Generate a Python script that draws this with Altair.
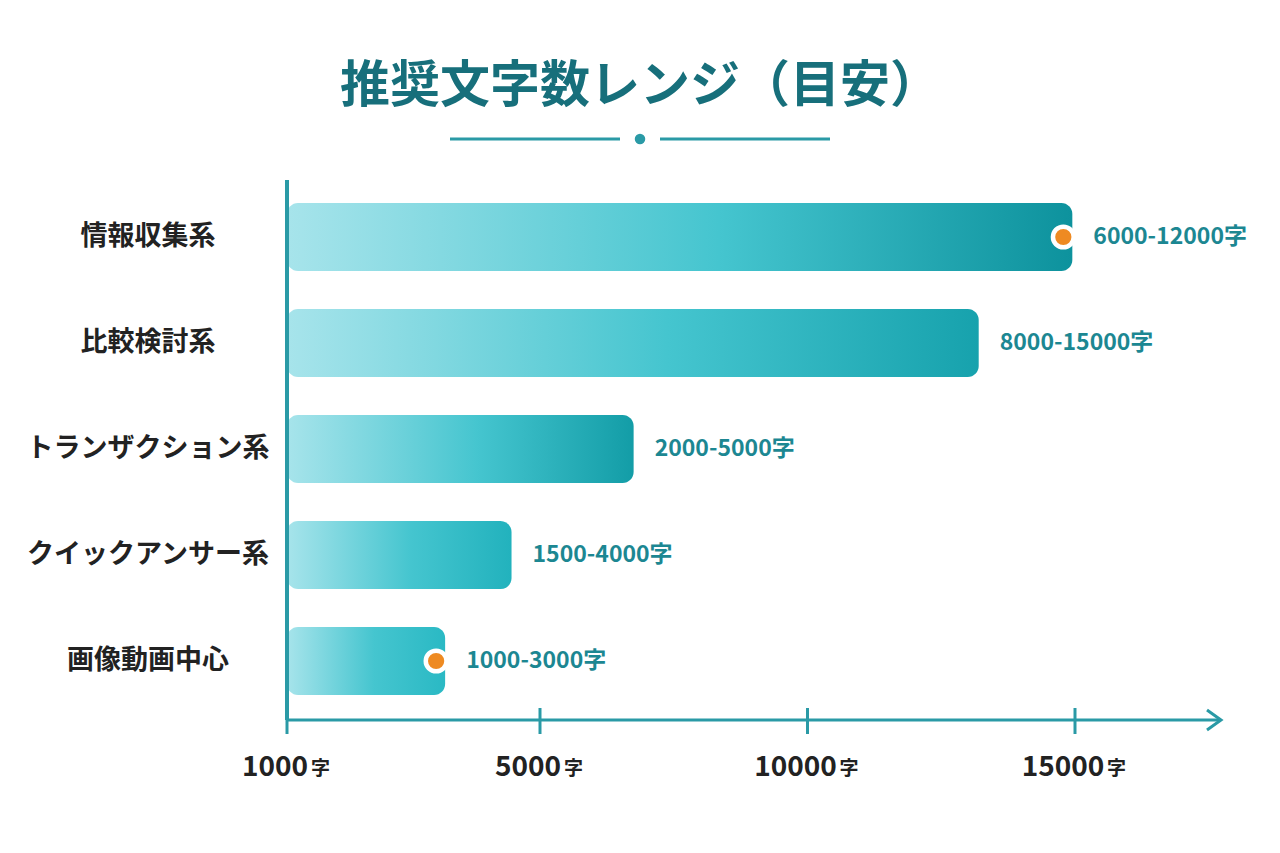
import altair as alt
import pandas as pd

# ---------------- data ----------------
title_text = "推奨文字数レンジ（目安）"
categories = ["情報収集系", "比較検討系", "トランザクション系", "クイックアンサー系", "画像動画中心"]
bar_ends = [14950, 13200, 6750, 4550, 3500]
range_labels = ["6000-12000字", "8000-15000字", "2000-5000字", "1500-4000字", "1000-3000字"]
end_colors = ["#0d929d", "#17a2ad", "#139da7", "#22b2bd", "#2ab9c4"]
has_marker = [True, False, False, False, True]
axis_start = 1000
tick_values = [1000, 5000, 10000, 15000]
tick_numbers = ["1000", "5000", "10000", "15000"]
tick_unit = "字"

TEAL = "#2a9aa6"
TITLE_COLOR = "#176f7b"
LABEL_TEAL = "#1c8792"
DARK = "#222222"
FONT = "Noto Sans CJK JP"

bars = pd.DataFrame({
    "cat": categories,
    "start": [axis_start] * len(categories),
    "end": bar_ends,
    "label": range_labels,
    "marker": has_marker,
})
ticks = pd.DataFrame({"v": tick_values, "num": tick_numbers, "unit": [tick_unit] * len(tick_values)})
single = pd.DataFrame({"t": [title_text]})

xscale = alt.Scale(domain=[1000, 5000, 15000], range=[0, 253, 788], zero=False, nice=False)
yscale = alt.Scale(domain=categories, range=[4, 534], paddingInner=0.358, paddingOuter=0.179)

X = alt.X("start:Q", scale=xscale, axis=None)
Y = alt.Y("cat:N", scale=yscale, axis=None, sort=categories)

layers = []

# gradient bars, one layer per category (gradient relative to each bar)
for cat, endc in zip(categories, end_colors):
    grad = alt.LinearGradient(
        gradient="linear", x1=0, x2=1, y1=0, y2=0,
        stops=[
            alt.GradientStop(offset=0, color="#a7e4eb"),
            alt.GradientStop(offset=0.55, color="#45c5cf"),
            alt.GradientStop(offset=1, color=endc),
        ],
    )
    layers.append(
        alt.Chart(bars).transform_filter(alt.datum.cat == cat)
        .mark_bar(color=grad, cornerRadiusEnd=11)
        .encode(x=X, x2="end:Q", y=Y)
    )

# orange markers
layers.append(
    alt.Chart(bars).transform_filter("datum.marker")
    .mark_point(filled=True, color="#ee8a22", stroke="white", strokeWidth=4.5,
                size=430, opacity=1, strokeOpacity=1, xOffset=-9)
    .encode(x=alt.X("end:Q", scale=xscale, axis=None), y=Y)
)

# value labels
layers.append(
    alt.Chart(bars).mark_text(align="left", baseline="middle", dx=21, fontSize=23,
                              fontWeight="bold", font=FONT, color=LABEL_TEAL)
    .encode(x=alt.X("end:Q", scale=xscale, axis=None), y=Y, text="label:N")
)

# category labels
layers.append(
    alt.Chart(bars).mark_text(align="center", baseline="middle", fontSize=27,
                              fontWeight="bold", font=FONT, color=DARK)
    .encode(x=alt.value(-139), y=Y, text="cat:N")
)

# y axis line
layers.append(
    alt.Chart(single).mark_rule(color=TEAL, strokeWidth=4)
    .encode(x=alt.value(0), y=alt.value(0), y2=alt.value(540))
)
# x axis line
layers.append(
    alt.Chart(single).mark_rule(color=TEAL, strokeWidth=3)
    .encode(x=alt.value(0), x2=alt.value(933), y=alt.value(540))
)
# arrow head
layers.append(
    alt.Chart(single).mark_point(shape="M-1.4,-1L0,0L-1.4,1", filled=False, stroke=TEAL,
                                 strokeWidth=3, size=400, opacity=1)
    .encode(x=alt.value(934), y=alt.value(540))
)
# ticks
layers.append(
    alt.Chart(ticks).mark_rule(color=TEAL, strokeWidth=3)
    .encode(x=alt.X("v:Q", scale=xscale, axis=None), y=alt.value(528), y2=alt.value(554))
)
# tick labels: number + smaller unit
layers.append(
    alt.Chart(ticks).mark_text(align="center", baseline="alphabetic", dx=-12, fontSize=28,
                               fontWeight="bold", font=FONT, color=DARK)
    .encode(x=alt.X("v:Q", scale=xscale, axis=None), y=alt.value(596), text="num:N")
)
for ndig, off in [(4, 24), (5, 32)]:
    layers.append(
        alt.Chart(ticks).transform_filter(f"length(datum.num) == {ndig}")
        .mark_text(align="left", baseline="alphabetic", dx=off, fontSize=19,
                   fontWeight="bold", font=FONT, color=DARK)
        .encode(x=alt.X("v:Q", scale=xscale, axis=None), y=alt.value(595), text="unit:N")
    )

# title
layers.append(
    alt.Chart(single).mark_text(align="center", baseline="middle", fontSize=50,
                                fontWeight="bold", font=FONT, color=TITLE_COLOR)
    .encode(x=alt.value(353), y=alt.value(-93), text="t:N")
)
# title decoration
layers.append(
    alt.Chart(single).mark_rule(color=TEAL, strokeWidth=3)
    .encode(x=alt.value(163), x2=alt.value(333), y=alt.value(-41))
)
layers.append(
    alt.Chart(single).mark_rule(color=TEAL, strokeWidth=3)
    .encode(x=alt.value(373), x2=alt.value(543), y=alt.value(-41))
)
layers.append(
    alt.Chart(single).mark_point(filled=True, color=TEAL, size=110, opacity=1)
    .encode(x=alt.value(353), y=alt.value(-41))
)

chart = alt.layer(*layers).properties(
    width=933, height=540,
    padding={"left": 287, "top": 180, "right": 60, "bottom": 133},
    autosize="none",
    background="white",
).configure_view(stroke=None)

chart.save("out.html", embed_options={"renderer": "svg", "actions": False})
